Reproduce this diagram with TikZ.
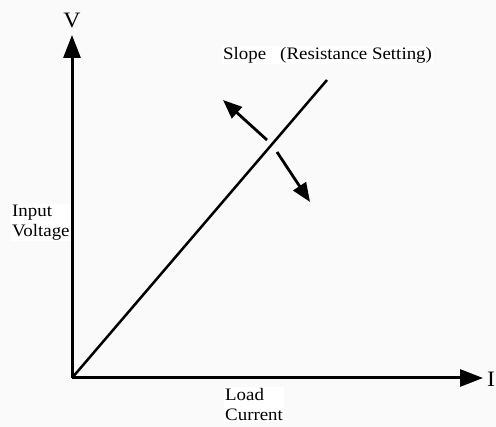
\documentclass[tikz,border=0pt]{standalone}
\usepackage{fontspec}
\newfontfamily\labfont[FakeStretch=1.08]{Liberation Serif}
\usetikzlibrary{arrows.meta}
\definecolor{bgray}{RGB}{250,250,250}
\tikzset{axis/.style={line width=3pt,-{Triangle[length=23pt,width=17pt]}},
  turn/.style={line width=2.8pt,-{Triangle[length=19pt,width=15pt]}},
  lab/.style={fill=white,inner sep=1pt,align=left}}
\begin{document}
\begin{tikzpicture}[x=1pt,y=-1pt,font=\labfont\fontsize{17.5}{20}\selectfont]
\useasboundingbox[fill=bgray](0,0)rectangle(496,427);
% axes
\coordinate(org)at(72,378);\coordinate(vtip)at(72,35);\coordinate(itip)at(483,378);
\draw[axis](org)--(vtip);\draw[axis](org)--(itip);
\node[font=\labfont\fontsize{22}{24}\selectfont](vl)at(72,20){V};
\node[anchor=west,inner sep=0pt,font=\labfont\fontsize{22}{24}\selectfont](il)at(487,379){I};
% slope line
\coordinate(top)at(327,80);\draw[line width=2.5pt](org)--(top);
\node[lab,anchor=west](sl)at(222,55){Slope\hspace{14pt}(Resistance Setting)};
% turning arrows
\coordinate(ua)at(267,140);\coordinate(ub)at(223,100);\draw[turn](ua)--(ub);
\coordinate(da)at(277,152);\coordinate(db)at(310,202);\draw[turn](da)--(db);
% axis labels
\node[lab,anchor=north west](iv)at(11,204){Input\\Voltage};
\node[lab,anchor=north west](lc)at(224,387){Load\\Current};
\end{tikzpicture}
\end{document}
